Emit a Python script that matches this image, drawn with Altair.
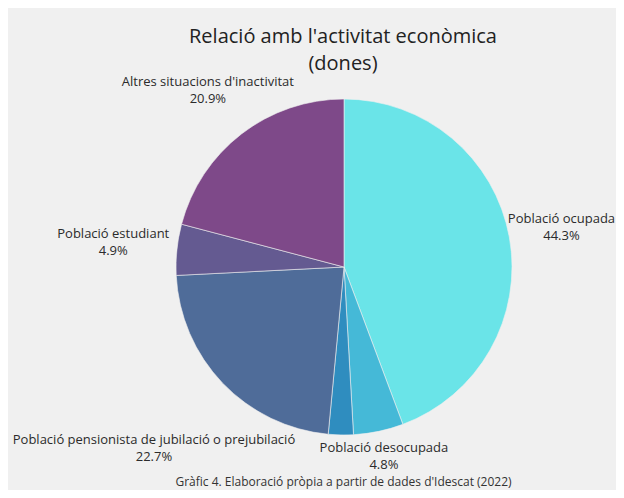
import altair as alt
import pandas as pd

# ---- data ----
categories = [
    "Població ocupada",
    "Població desocupada",
    "Població pensionista d'invalidesa",
    "Població pensionista de jubilació o prejubilació",
    "Població estudiant",
    "Altres situacions d'inactivitat",
]
values = [44.3, 4.8, 2.4, 22.7, 4.9, 20.9]
show_label = [True, True, False, True, True, True]
title_lines = ["Relació amb l'activitat econòmica", "(dones)"]
caption_text = "Gràfic 4. Elaboració pròpia a partir de dades d'Idescat (2022)"

# ---- styling ----
colors = ["#6ae4e8", "#45b9d7", "#2f8dbf", "#4f6c99", "#645a91", "#7e4989"]
label_radius = [221, 194, 0, 263, 232, 223]
bg = "#f0f0f0"

df = pd.DataFrame({
    "cat": categories,
    "val": values,
    "ord": list(range(len(categories))),
    "lbl": [f"{c}\n{v:.1f}%" if s else "" for c, v, s in zip(categories, values, show_label)],
    "lr": label_radius,
})

W, H = 544, 398
L, T, R, B = 64, 60, 0, 24
theta_scale = alt.Scale(domain=[0, 100])

base = alt.Chart(df)

arcs = base.mark_arc(outerRadius=168, stroke=bg, strokeWidth=0.6).encode(
    theta=alt.Theta("val:Q", stack=True, scale=theta_scale),
    order=alt.Order("ord:Q"),
    color=alt.Color("cat:N", scale=alt.Scale(domain=categories, range=colors), legend=None),
)

labels = base.transform_window(
    cum="sum(val)", sort=[alt.SortField("ord")], frame=[None, 0]
).transform_calculate(
    mid="datum.cum - datum.val / 2"
).transform_filter("datum.lbl != ''").mark_text(
    font="Open Sans", fontSize=13, color="#2b2b2b", lineBreak="\n",
    align="center", baseline="middle", lineHeight=17, dy=-8.5,
).encode(
    theta=alt.Theta("mid:Q", stack=None, scale=theta_scale),
    radius=alt.Radius("lr:Q", scale=None),
    text="lbl:N",
)

title = alt.Chart(pd.DataFrame({"t": ["\n".join(title_lines)]})).mark_text(
    font="Open Sans", fontSize=20, color="#222222", align="center", baseline="middle",
    lineBreak="\n", lineHeight=27,
).encode(
    x=alt.value(W / 2 - 1),
    y=alt.value(36.5 - 8 - T),
    text="t:N",
)

caption = alt.Chart(pd.DataFrame({"t": [caption_text]})).mark_text(
    font="Open Sans", fontSize=12, color="#333333", align="center", baseline="alphabetic",
).encode(
    x=alt.value(W / 2 - 0.5),
    y=alt.value(486 - 8 - T),
    text="t:N",
)

chart = alt.layer(arcs, labels, title, caption).properties(
    width=W,
    height=H,
    padding={"left": L, "top": T, "right": R, "bottom": B},
    autosize=alt.AutoSizeParams(type="none"),
    background=bg,
).configure_view(stroke=None)

chart.save("out.html", embed_options={"renderer": "svg", "actions": False})
